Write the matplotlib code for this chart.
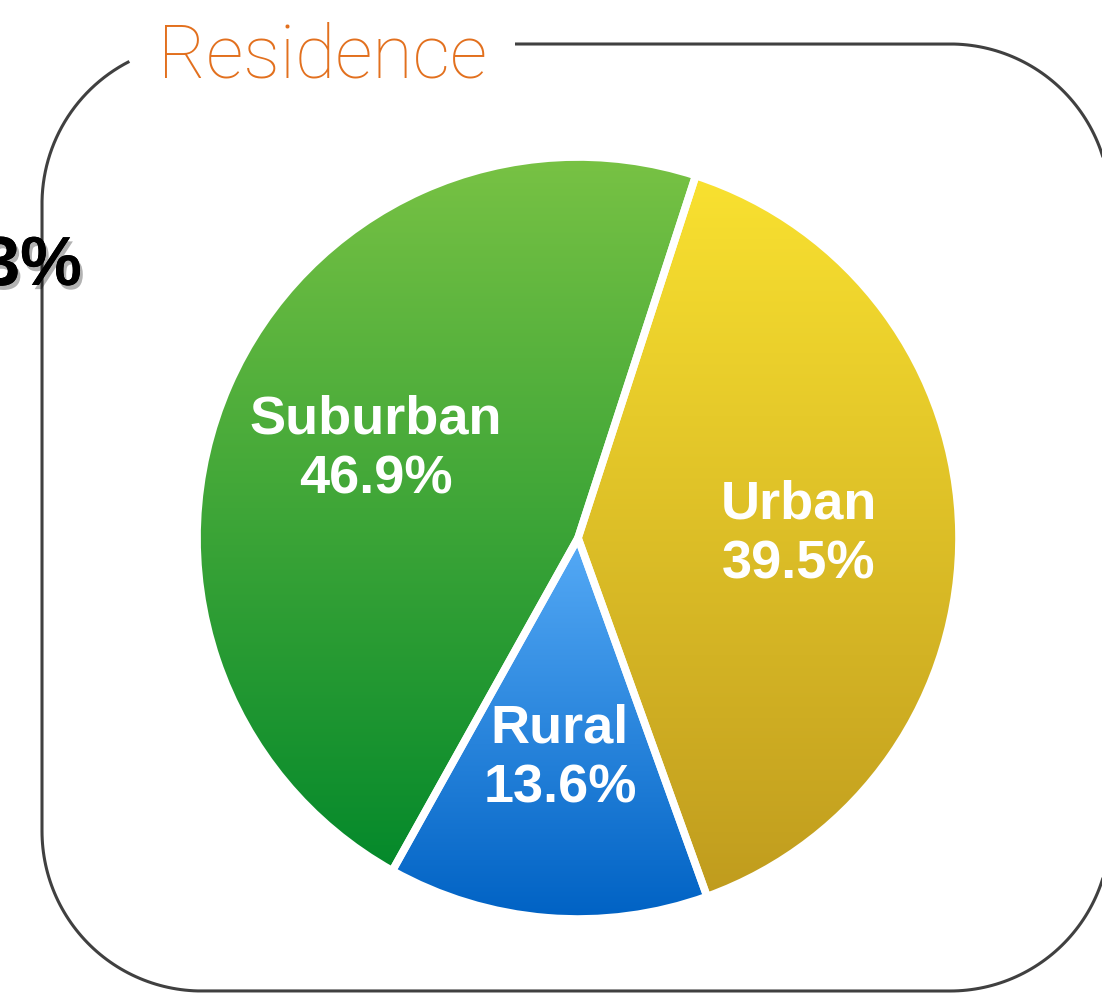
import matplotlib.pyplot as plt
import matplotlib.patheffects as pe
import numpy as np
from matplotlib.colors import to_rgb

# data
labels = ["Urban", "Rural", "Suburban"]
shares = [39.5, 13.6, 46.9]
top_colors = ["#F9E130", "#55AAF6", "#78C244"]
bottom_colors = ["#C09C1E", "#0062C4", "#04892B"]
title = "Residence"
side_text = "3%"

W, H = 1102, 993
fig = plt.figure(figsize=(W / 100, H / 100), dpi=100)

# background layer in pixel coords for the frame and title
bg = fig.add_axes([0, 0, 1, 1])
bg.set_xlim(0, W)
bg.set_ylim(H, 0)
bg.axis("off")


def arc(xc, yc, R, a0, a1, n=60):
    a = np.deg2rad(np.linspace(a0, a1, n))
    return xc + R * np.cos(a), yc + R * np.sin(a)


# rounded frame, open at the top where the title sits
x0, y0, x1, y1, R = 42, 44, 1110, 991, 160
xs, ys = [515.0], [y0]
for (xc, yc, a0, a1) in [(x1 - R, y0 + R, -90, 0), (x1 - R, y1 - R, 0, 90),
                         (x0 + R, y1 - R, 90, 180), (x0 + R, y0 + R, 180, 243)]:
    ax_, ay_ = arc(xc, yc, R, a0, a1)
    xs += list(ax_)
    ys += list(ay_)
bg.plot(xs, ys, color="#404040", linewidth=2.2, clip_on=False, solid_capstyle="butt")

bg.text(158, 78, title, color="#E2701E", fontsize=53, fontfamily="Roboto",
        fontweight="light", ha="left", va="baseline", zorder=3)

bg.text(82, 285, side_text, color="black", fontsize=50, fontweight="bold",
        fontfamily="Liberation Sans", ha="right", va="baseline", zorder=3,
        path_effects=[pe.withSimplePatchShadow(offset=(2, -3), alpha=0.3), pe.Normal()])

# pie
cx, cy, r = 578, 538, 381
ax = fig.add_axes([(cx - r) / W, (H - cy - r) / H, 2 * r / W, 2 * r / H])
wedges, _ = ax.pie(shares, startangle=72, counterclock=False, radius=1,
                   wedgeprops=dict(facecolor="none", edgecolor="white", linewidth=5.5))

for i, w in enumerate(wedges):
    ext = w.get_path().get_extents(w.get_patch_transform())
    t = np.linspace(0, 1, 256)[:, None, None]
    grad = (1 - t) * np.array(to_rgb(top_colors[i])) + t * np.array(to_rgb(bottom_colors[i]))
    im = ax.imshow(grad, extent=(ext.x0, ext.x1, ext.y0, ext.y1), origin="upper",
                   aspect="auto", interpolation="bilinear", zorder=0.5)
    im.set_clip_path(w)
    w.set_zorder(1)

    # label at the middle angle of the wedge
    mid = np.deg2rad((w.theta1 + w.theta2) / 2)
    d = 0.58
    ax.text(d * np.cos(mid), d * np.sin(mid), f"{labels[i]}\n{shares[i]:.1f}%",
            color="white", fontsize=39, fontweight="bold", fontfamily="Liberation Sans",
            ha="center", va="center", linespacing=1.25, zorder=3)

ax.set_xlim(-1, 1)
ax.set_ylim(-1, 1)
ax.axis("off")

fig.savefig("out.png", dpi=100)
